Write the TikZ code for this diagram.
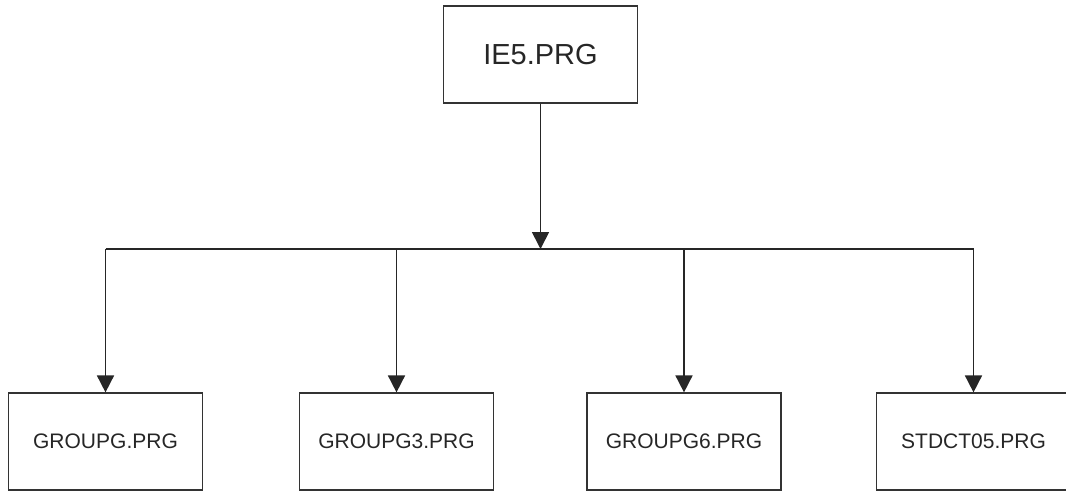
\documentclass[tikz,border=0pt]{standalone}
\usepackage{fontspec}
\setmainfont{Liberation Sans}
\usetikzlibrary{arrows.meta}
\begin{document}
\begin{tikzpicture}[x=1pt,y=-1pt,
  box/.style={draw=black!80,line width=1.2pt,minimum width=194pt,minimum height=97pt,inner sep=0pt,text=black!85},
  conn/.style={draw=black!85,line width=1.7pt},
  arr/.style={conn,-{Triangle[length=17pt,width=17pt]}}]
\useasboundingbox (0,0) rectangle (1066,493);
\node[box,font=\fontsize{29}{32}\selectfont] (top) at (540.5,54.5) {IE5.PRG};
\node[box,font=\fontsize{21}{24}\selectfont] (b1) at (105.5,441.5) {GROUPG.PRG};
\node[box,font=\fontsize{21}{24}\selectfont] (b2) at (396.5,441.5) {GROUPG3.PRG};
\node[box,font=\fontsize{21}{24}\selectfont] (b3) at (684,441.5) {GROUPG6.PRG};
\node[box,font=\fontsize{21}{24}\selectfont] (b4) at (973.5,441.5) {STDCT05.PRG};
\coordinate (j) at (540.5,249);
\coordinate (l) at (105.5,249);
\coordinate (r) at (973.5,249);
\draw[arr] (top.south) -- (j);
\draw[conn] (l) -- (r);
\draw[arr] (l) -- (b1.north);
\draw[arr] (b2.north |- j) -- (b2.north);
\draw[arr] (b3.north |- j) -- (b3.north);
\draw[arr] (r) -- (b4.north);
\end{tikzpicture}
\end{document}
